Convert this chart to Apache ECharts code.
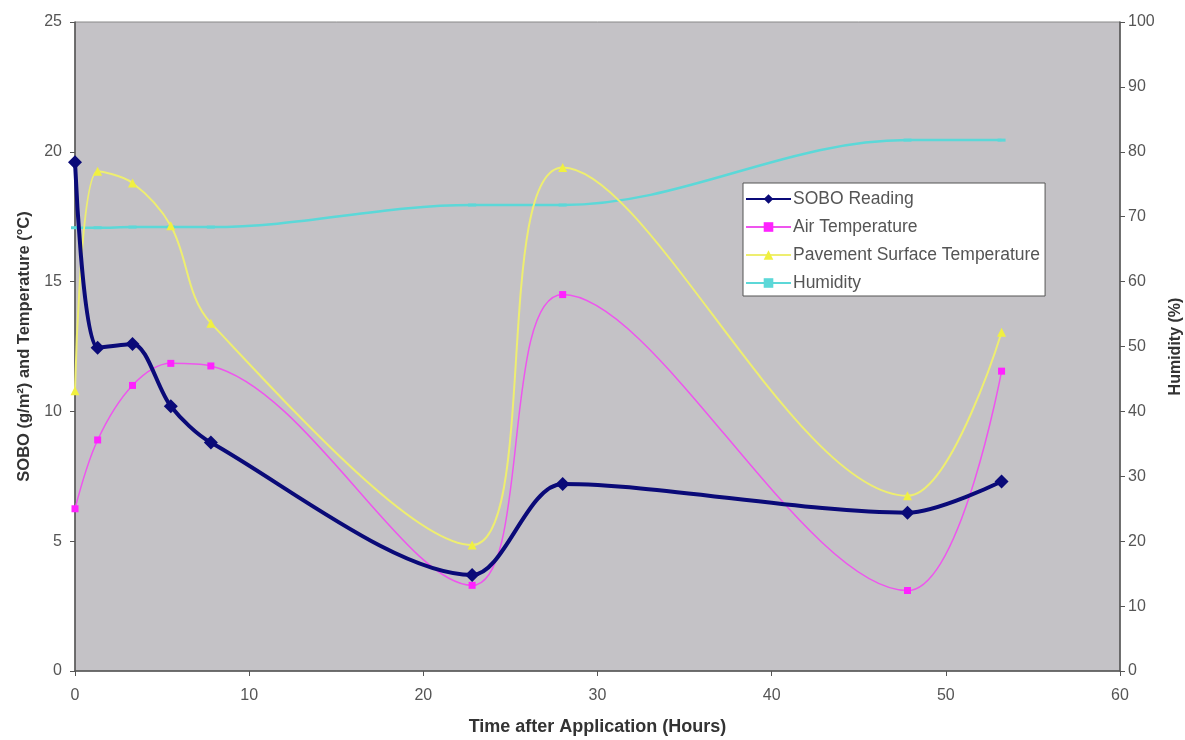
<!DOCTYPE html>
<html><head><meta charset="utf-8">
<script src="https://cdn.jsdelivr.net/npm/echarts@6/dist/echarts.min.js"></script>
<style>html,body{margin:0;padding:0;background:#fff}#c{width:1185px;height:740px}</style>
</head><body><div id="c"></div>
<script>
const hours = [0, 1.3, 3.3, 5.5, 7.8, 22.8, 28, 47.8, 53.2];
const sobo = [19.6, 12.45, 12.6, 10.2, 8.8, 3.7, 7.2, 6.1, 7.3];
const airTemp = [6.25, 8.9, 11.0, 11.85, 11.75, 3.3, 14.5, 3.1, 11.55];
const paveTemp = [10.8, 19.25, 18.8, 17.15, 13.4, 4.85, 19.4, 6.75, 13.05];
const humidity = [68.3, 68.3, 68.4, 68.4, 68.4, 71.8, 71.8, 81.8, 81.8];
const xTicks = [0, 10, 20, 30, 40, 50, 60];

const pairs = v => hours.map((h, i) => [h, v[i]]);
const font = 'Liberation Sans, Arial, sans-serif';
const chart = echarts.init(document.getElementById('c'));
chart.setOption({
  animation: false,
  backgroundColor: '#fff',
  textStyle: { fontFamily: font },
  grid: { left: 75, right: 65, top: 22, bottom: 69, outerBoundsMode: 'none', containLabel: false, show: true, backgroundColor: '#c4c2c6', borderColor: '#888', borderWidth: 1 },
  legend: {
    left: 743, top: 183, orient: 'vertical',
    backgroundColor: '#fff', borderColor: '#555', borderWidth: 1, borderRadius: 0,
    padding: [7, 5, 4, 2], itemGap: 10, itemWidth: 45, itemHeight: 12,
    textStyle: { color: '#555', fontSize: 17.5, fontFamily: font, padding: [0, 0, 0, -3] },
    data: ['SOBO Reading', 'Air Temperature', 'Pavement Surface Temperature', 'Humidity']
  },
  xAxis: {
    type: 'value', min: 0, max: 60, interval: 10,
    name: 'Time after Application (Hours)', nameLocation: 'middle', nameGap: 47,
    nameTextStyle: { fontWeight: 'bold', fontSize: 18, color: '#333' },
    axisLine: { lineStyle: { color: '#555', width: 1.5 } },
    axisTick: { show: true, length: 5, lineStyle: { color: '#555' } },
    axisLabel: { color: '#555', fontSize: 16, margin: 17, formatter: v => xTicks.includes(v) ? String(v) : '' },
    splitLine: { show: false }
  },
  yAxis: [{
    type: 'value', min: 0, max: 25, interval: 5,
    name: 'SOBO (g/m²) and Temperature (°C)', nameLocation: 'middle', nameGap: 38, nameRotate: 90,
    nameTextStyle: { fontWeight: 'bold', fontSize: 16.5, color: '#333' },
    axisLine: { show: true, lineStyle: { color: '#555', width: 1.5 } },
    axisTick: { show: true, length: 5, lineStyle: { color: '#555' } },
    axisLabel: { color: '#555', fontSize: 16, margin: 13 },
    splitLine: { show: false }
  }, {
    type: 'value', min: 0, max: 100, interval: 10, position: 'right',
    name: 'Humidity (%)', nameLocation: 'middle', nameGap: 48, nameRotate: 90,
    nameTextStyle: { fontWeight: 'bold', fontSize: 16, color: '#333' },
    axisLine: { show: true, lineStyle: { color: '#555', width: 1.5 } },
    axisTick: { show: true, length: 5, lineStyle: { color: '#555' } },
    axisLabel: { color: '#555', fontSize: 16, margin: 8 },
    splitLine: { show: false }
  }],
  series: [
    { name: 'Humidity', type: 'line', yAxisIndex: 1, data: pairs(humidity), smooth: 0.35,
      symbol: 'rect', symbolSize: [8, 3], lineStyle: { color: '#5cd8d8', width: 2.5 }, itemStyle: { color: '#5cd8d8' }, z: 2 },
    { name: 'Pavement Surface Temperature', type: 'line', data: pairs(paveTemp), smooth: 0.35,
      symbol: 'triangle', symbolSize: 9, lineStyle: { color: '#eeee70', width: 2 }, itemStyle: { color: '#f0f040' }, z: 3 },
    { name: 'Air Temperature', type: 'line', data: pairs(airTemp), smooth: 0.35,
      symbol: 'rect', symbolSize: 7, lineStyle: { color: '#ee55ee', width: 1.5 }, itemStyle: { color: '#ff22ff' }, z: 4 },
    { name: 'SOBO Reading', type: 'line', data: pairs(sobo), smooth: 0.3,
      symbol: 'diamond', symbolSize: 14, lineStyle: { color: '#0a0a78', width: 4 }, itemStyle: { color: '#0a0a78' }, z: 5 }
  ]
});
</script></body></html>
